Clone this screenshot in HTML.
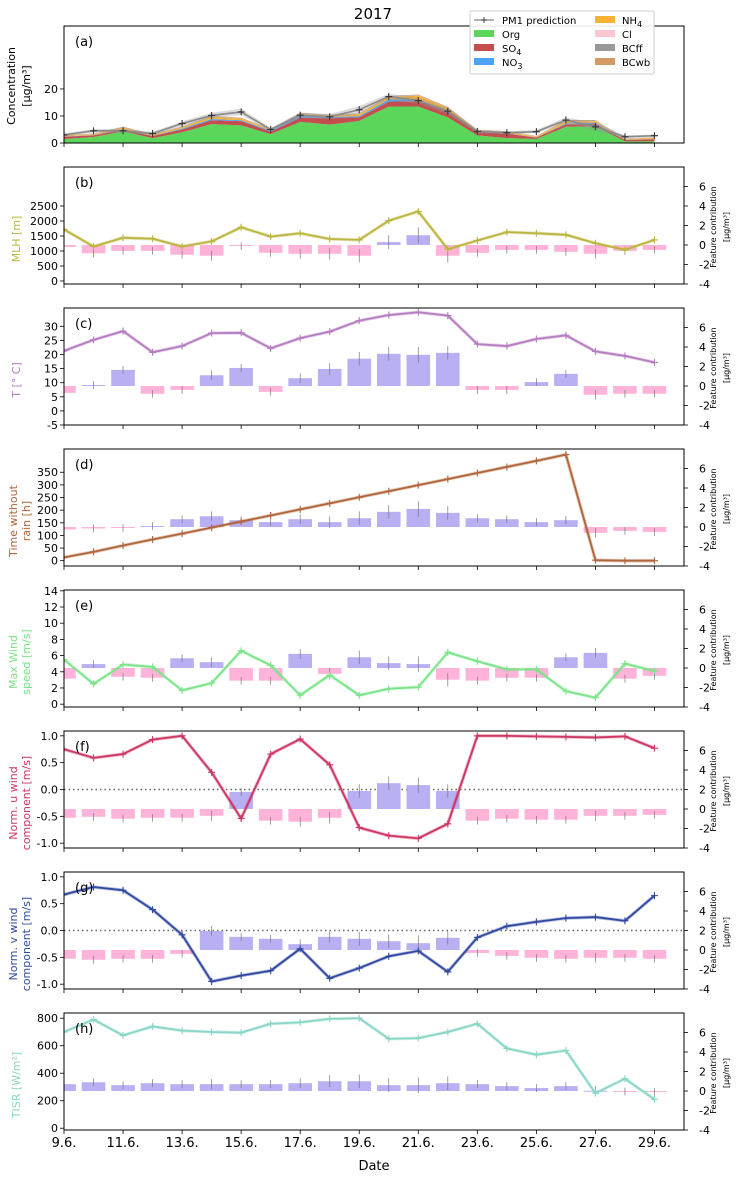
<!DOCTYPE html>
<html><head><meta charset="utf-8">
<style>
body{margin:0;background:#fff;}
svg{display:block;font-family:"DejaVu Sans","Liberation Sans",sans-serif;}
</style></head>
<body>
<svg id="fig" width="737" height="1177" viewBox="0 0 737 1177" xmlns="http://www.w3.org/2000/svg">
<text x="373" y="19" font-size="15" text-anchor="middle">2017</text>
</svg>
<script>
// ---------- DATA ----------
const dates = ["9.6.","10.6.","11.6.","12.6.","13.6.","14.6.","15.6.","16.6.","17.6.","18.6.","19.6.","20.6.","21.6.","22.6.","23.6.","24.6.","25.6.","26.6.","27.6.","28.6.","29.6."];
const xTickLabels = ["9.6.","11.6.","13.6.","15.6.","17.6.","19.6.","21.6.","23.6.","25.6.","27.6.","29.6."];
// panel a (stacked components)
const org  = [1.5,2.2,4.3,1.8,4.0,7.0,6.5,3.3,7.8,6.8,8.2,13.5,13.5,9.5,2.8,1.8,1.5,6.0,6.2,0.6,0.6];
const so4  = [0.8,0.6,0.6,0.8,1.0,1.4,1.6,0.9,1.6,2.5,1.3,1.8,2.0,1.9,1.2,1.7,0.5,0.9,0.9,0.5,0.8];
const no3  = [0.1,0.1,0.2,0.1,0.3,0.5,0.3,0.4,0.6,0.3,0.4,0.8,0.6,0.4,0.1,0.1,0.1,0.3,0.4,0.1,0.1];
const nh4  = [0.3,0.3,0.6,0.4,0.5,0.8,0.6,0.4,0.8,0.6,0.7,1.0,1.5,1.2,0.6,0.5,0.3,0.9,0.6,0.2,0.4];
const cl   = [0.05,0.05,0.05,0.05,0.05,0.05,0.05,0.05,0.05,0.05,0.05,0.05,0.05,0.05,0.05,0.05,0.05,0.05,0.05,0.05,0.05];
const bcff = [0.1,0.1,0.2,0.1,0.2,0.2,0.2,0.1,0.2,0.2,0.2,0.2,0.2,0.2,0.1,0.1,0.1,0.2,0.2,0.1,0.1];
const bcwb = [0.1,0.1,0.1,0.1,0.1,0.1,0.1,0.1,0.1,0.1,0.1,0.1,0.1,0.1,0.1,0.1,0.1,0.1,0.1,0.1,0.1];
const pm1pred = [3.0,4.5,4.5,3.5,7.2,10.2,11.5,5.0,10.3,9.7,12.3,17.2,15.7,11.8,4.3,3.8,4.2,8.5,6.0,2.3,2.7];
const pm1err  = [0.6,0.6,0.8,0.6,0.8,1.0,1.2,0.6,1.0,1.0,1.4,1.0,1.2,1.2,0.6,0.6,0.6,1.0,1.6,0.5,0.5];
// meteorological variables
const mlh   = [1720,1150,1440,1410,1150,1320,1790,1480,1590,1400,1370,2010,2320,1060,1350,1630,1590,1540,1260,1040,1370];
const temp  = [21.3,25.2,28.3,20.8,23.0,27.6,27.7,22.2,25.8,28.1,32.0,34.0,35.0,33.8,23.7,23.0,25.5,26.8,21.1,19.5,17.2];
const norain= [13,35,60,84,107,131,155,179,203,227,251,275,299,323,347,371,395,420,2,0,0];
const wmax  = [5.5,2.5,4.9,4.6,1.7,2.6,6.6,4.8,1.1,3.6,1.1,1.9,2.1,6.4,5.3,4.3,4.3,1.6,0.8,5.0,4.1];
const uwind = [0.75,0.59,0.66,0.93,1.0,0.32,-0.54,0.66,0.94,0.46,-0.71,-0.86,-0.91,-0.64,1.0,1.0,0.99,0.98,0.97,0.99,0.77];
const vwind = [0.67,0.81,0.75,0.39,-0.08,-0.95,-0.84,-0.75,-0.34,-0.89,-0.70,-0.48,-0.38,-0.77,-0.13,0.08,0.16,0.23,0.25,0.18,0.65];
const tisr  = [700,790,675,740,710,700,695,760,770,795,800,650,655,700,760,580,535,565,255,360,210];
// feature contributions (right axis)
const contribMLH  = [-0.2,-0.85,-0.6,-0.6,-1.0,-1.1,-0.1,-0.8,-0.9,-0.9,-1.1,0.3,1.0,-1.1,-0.8,-0.5,-0.5,-0.7,-0.9,-0.6,-0.5];
const contribT    = [-0.7,0.1,1.65,-0.8,-0.4,1.1,1.85,-0.6,0.8,1.75,2.8,3.3,3.2,3.4,-0.4,-0.4,0.4,1.25,-0.9,-0.8,-0.8];
const contribRain = [-0.25,-0.15,-0.1,0.1,0.8,1.1,0.7,0.5,0.8,0.5,0.9,1.55,1.85,1.45,0.9,0.8,0.5,0.7,-0.6,-0.4,-0.5];
const contribWmax = [-1.1,0.4,-0.9,-1.0,1.0,0.6,-1.3,-1.3,1.45,-0.6,1.1,0.5,0.4,-1.2,-1.3,-1.0,-1.0,1.1,1.55,-1.1,-0.8];
const contribU    = [-0.9,-0.8,-1.0,-0.9,-0.9,-0.7,1.75,-1.2,-1.3,-0.9,1.85,2.65,2.45,1.85,-1.2,-1.0,-1.1,-1.1,-0.7,-0.7,-0.6];
const contribV    = [-0.9,-1.0,-0.9,-0.9,-0.4,1.95,1.35,1.15,0.6,1.35,1.15,0.9,0.7,1.25,-0.3,-0.6,-0.8,-0.9,-0.8,-0.8,-0.9];
const contribTISR = [0.7,0.9,0.6,0.8,0.7,0.7,0.7,0.7,0.8,1.0,1.0,0.6,0.6,0.8,0.7,0.5,0.3,0.5,0.03,-0.05,-0.1];
const contribErr  = [0.4,0.4,0.4,0.4,0.4,0.5,0.4,0.4,0.5,0.6,0.7,0.7,0.8,0.7,0.4,0.4,0.4,0.4,0.5,0.4,0.4];
const rightTicks = [-4,-2,0,2,4,6];

// ---------- LAYOUT ----------
const svg = document.getElementById('fig');
const NS = "http://www.w3.org/2000/svg";
const X0 = 64, X1 = 684, PH = 117;
const xs = d => X0 + (d - 0) / 21 * (X1 - X0);
function el(tag, attrs, parent) {
  const e = document.createElementNS(NS, tag);
  for (const k in attrs) e.setAttribute(k, attrs[k]);
  (parent || svg).appendChild(e);
  return e;
}
function txt(x, y, s, size, anchor, color, parent) {
  const t = el('text', {x: x, y: y, 'font-size': size, 'text-anchor': anchor || 'start', fill: color || '#000'}, parent);
  t.textContent = s;
  return t;
}

const panels = [
  {key:'b', top:167, ymin:-100, ymax:3800, ticks:[0,500,1000,1500,2000,2500], data:mlh, contrib:contribMLH, color:'#bcb53e', label:['MLH [m]'], name:'mlh'},
  {key:'c', top:308, ymin:-5, ymax:36.5, ticks:[-5,0,5,10,15,20,25,30], data:temp, contrib:contribT, color:'#b57cc0', label:['T [$^\\circ$C]'.replace('$^\\circ$','° ')], name:'temperature'},
  {key:'d', top:449, ymin:-21, ymax:442, ticks:[0,50,100,150,200,250,300,350], data:norain, contrib:contribRain, color:'#b0653a', label:['Time without','rain [h]'], name:'time-without-rain'},
  {key:'e', top:590, ymin:-0.35, ymax:14.1, ticks:[0,2,4,6,8,10,12,14], data:wmax, contrib:contribWmax, color:'#7ae488', label:['Max Wind','speed [m/s]'], name:'max-wind'},
  {key:'f', top:731, ymin:-1.09, ymax:1.09, ticks:[-1.0,-0.5,0.0,0.5,1.0], data:uwind, contrib:contribU, color:'#cc3763', label:['Norm. u wind','component [m/s]'], name:'u-wind', zero:true},
  {key:'g', top:872, ymin:-1.09, ymax:1.09, ticks:[-1.0,-0.5,0.0,0.5,1.0], data:vwind, contrib:contribV, color:'#3049a0', label:['Norm. v wind','component [m/s]'], name:'v-wind', zero:true},
  {key:'h', top:1013, ymin:-13, ymax:838, ticks:[0,200,400,600,800], data:tisr, contrib:contribTISR, color:'#8ad6c6', label:['TISR [W/m²]'], name:'tisr'}
];

function axisFrame(top, name) {
  const g = el('g', { });
  const cp = el('clipPath', {id: 'clip-' + name}, g);
  el('rect', {x: X0, y: top, width: X1 - X0, height: PH}, cp);
  return g;
}
function xTicks(g, top, withLabels) {
  for (let d = 0; d <= 20; d += 2) {
    el('line', {x1: xs(d), x2: xs(d), y1: top + PH, y2: top + PH + 4, stroke: '#000', 'stroke-width': 0.8}, g);
  }
  if (withLabels) {
    xTickLabels.forEach((s, i) => {
      const t = txt(xs(i * 2), top + PH + 17, s, 13, 'middle', '#000', g);
      
      
    });
  }
}
function leftTicks(g, top, ymin, ymax, ticks, fmt) {
  const ys = v => top + PH - (v - ymin) / (ymax - ymin) * PH;
  ticks.forEach(v => {
    el('line', {x1: X0 - 4, x2: X0, y1: ys(v), y2: ys(v), stroke: '#000', 'stroke-width': 0.8}, g);
    const t = txt(X0 - 6, ys(v) + 4, fmt ? fmt(v) : String(v), 11, 'end', '#000', g);
    
    
  });
}
function marker(g, x, y, color, size) {
  el('path', {d: `M${x - size} ${y}H${x + size}M${x} ${y - size}V${y + size}`, stroke: color, 'stroke-width': 1.1}, g);
}

// ---------- PANEL A ----------
(function () {
  const top = 26, ymin = 0, ymax = 43.3;
  const ys = v => top + PH - (v - ymin) / (ymax - ymin) * PH;
  const g = axisFrame(top, 'concentration');
  const series = [
    {arr: org, c: '#5bd65b', n: 'area-org'},
    {arr: so4, c: '#c44e4e', n: 'area-so4'},
    {arr: no3, c: '#4aa3f5', n: 'area-no3'},
    {arr: nh4, c: '#f9b233', n: 'area-nh4'},
    {arr: cl, c: '#fbc8d2', n: 'area-cl'},
    {arr: bcff, c: '#999999', n: 'area-bcff'},
    {arr: bcwb, c: '#d49a64', n: 'area-bcwb'}
  ];
  const base = dates.map(() => 0);
  const cg = el('g', {'clip-path': 'url(#clip-concentration)'}, g);
  series.forEach(s => {
    const lo = base.slice();
    const hi = base.map((b, i) => b + s.arr[i]);
    let d = 'M' + hi.map((v, i) => xs(i) + ' ' + ys(v)).join('L');
    for (let i = lo.length - 1; i >= 0; i--) d += 'L' + xs(i) + ' ' + ys(lo[i]);
    const p = el('path', {d: d + 'Z', fill: s.c}, cg);
    
    
    hi.forEach((v, i) => base[i] = v);
  });
  // prediction band and line
  let bd = 'M' + pm1pred.map((v, i) => xs(i) + ' ' + ys(v + pm1err[i])).join('L');
  for (let i = pm1pred.length - 1; i >= 0; i--) bd += 'L' + xs(i) + ' ' + ys(pm1pred[i] - pm1err[i]);
  const band = el('path', {d: bd + 'Z', fill: '#999', 'fill-opacity': 0.35}, cg);
  
  
  const pl = el('polyline', {points: pm1pred.map((v, i) => xs(i) + ',' + ys(v)).join(' '), fill: 'none', stroke: '#8a8a8a', 'stroke-width': 1.6}, cg);
  
  
  pm1pred.forEach((v, i) => marker(cg, xs(i), ys(v), '#333', 3.5));
  el('rect', {x: X0, y: top, width: X1 - X0, height: PH, fill: 'none', stroke: '#000', 'stroke-width': 1}, g);
  leftTicks(g, top, ymin, ymax, [0, 10, 20]);
  xTicks(g, top, false);
  const pa = txt(75, top + 20, '(a)', 13, 'start', '#000', g);
  
  
  const yl = el('text', {transform: 'translate(15,' + (top + 60) + ') rotate(-90)', 'font-size': 11, 'text-anchor': 'middle'}, g);
  
  
  yl.innerHTML = '<tspan x="0" dy="0">Concentration</tspan><tspan x="0" dy="15">[μg/m³]</tspan>';
  // legend
  const lg = el('g', {}, g);
  
  
  el('rect', {x: 470, y: 11, width: 184, height: 63, fill: '#fff', 'fill-opacity': 0.9, stroke: '#ccc', rx: 2}, lg);
  el('line', {x1: 474, x2: 494, y1: 20, y2: 20, stroke: '#999', 'stroke-width': 1.6}, lg);
  marker(lg, 484, 20, '#555', 3);
  txt(502, 24, 'PM1 prediction', 10, 'start', '#000', lg);
  const left = [['Org', '#5bd65b'], ['SO', '#c44e4e', '4'], ['NO', '#4aa3f5', '3']];
  left.forEach((e, i) => {
    el('rect', {x: 474, y: 30 + i * 14, width: 20, height: 7, fill: e[1]}, lg);
    const t = txt(502, 38 + i * 14, e[0], 10, 'start', '#000', lg);
    if (e[2]) { const s = el('tspan', {dy: 3, 'font-size': 8}, t); s.textContent = e[2]; }
  });
  const right = [['NH', '#f9b233', '4'], ['Cl', '#fbc8d2'], ['BCff', '#999999'], ['BCwb', '#d49a64']];
  right.forEach((e, i) => {
    el('rect', {x: 595, y: 16 + i * 14, width: 20, height: 7, fill: e[1]}, lg);
    const t = txt(622, 24 + i * 14, e[0], 10, 'start', '#000', lg);
    if (e[2]) { const s = el('tspan', {dy: 3, 'font-size': 8}, t); s.textContent = e[2]; }
  });
})();

// ---------- PANELS B-H ----------
const RMIN = -4, RMAX = 8;
panels.forEach((P, idx) => {
  const top = P.top;
  const ys = v => top + PH - (v - P.ymin) / (P.ymax - P.ymin) * PH;
  const yr = v => top + PH - (v - RMIN) / (RMAX - RMIN) * PH;
  const g = axisFrame(top, P.name);
  const cg = el('g', {'clip-path': 'url(#clip-' + P.name + ')'}, g);
  if (P.zero) {
    el('line', {x1: X0, x2: X1, y1: ys(0), y2: ys(0), stroke: '#666', 'stroke-width': 1.5, 'stroke-dasharray': '1.5,3'}, cg);
  }
  // bars
  P.contrib.forEach((v, i) => {
    const x = xs(i - 0.4), w = xs(0.8) - xs(0);
    const y = Math.min(yr(v), yr(0)), h = Math.abs(yr(v) - yr(0));
    const r = el('rect', {x: x, y: y, width: w, height: Math.max(h, 1), fill: v >= 0 ? '#b8b0f2' : '#ffb3d9'}, cg);
    
    
    el('line', {x1: xs(i), x2: xs(i), y1: yr(v - contribErr[i]), y2: yr(v + contribErr[i]), stroke: '#777', 'stroke-width': 0.7}, cg);
  });
  // line
  el('polyline', {points: P.data.map((v, i) => xs(i) + ',' + ys(v)).join(' '), fill: 'none', stroke: P.color, 'stroke-width': 3.5, 'stroke-opacity': 0.35}, cg);
  const ln = el('polyline', {points: P.data.map((v, i) => xs(i) + ',' + ys(v)).join(' '), fill: 'none', stroke: P.color, 'stroke-width': 1.8}, cg);
  
  
  P.data.forEach((v, i) => marker(cg, xs(i), ys(v), P.color, 3.5));
  el('rect', {x: X0, y: top, width: X1 - X0, height: PH, fill: 'none', stroke: '#000', 'stroke-width': 1}, g);
  leftTicks(g, top, P.ymin, P.ymax, P.ticks, P.zero ? (v => v.toFixed(1)) : null);
  // right ticks
  rightTicks.forEach(v => {
    el('line', {x1: X1, x2: X1 + 4, y1: yr(v), y2: yr(v), stroke: '#000', 'stroke-width': 0.8}, g);
    const t = txt(X1 + 15, yr(v) + 4, String(v), 11, 'start', '#000', g);
    
    
  });
  const rl = el('text', {transform: 'translate(716,' + (top + 60) + ') rotate(-90)', 'font-size': 8, 'text-anchor': 'middle'}, g);
  
  
  rl.innerHTML = '<tspan x="0" dy="0">Feature contribution</tspan><tspan x="0" dy="13">[μg/m³]</tspan>';
  xTicks(g, top, idx === panels.length - 1);
  const pl = txt(75, top + 20, '(' + P.key + ')', 13, 'start', '#000', g);
  
  
  const yl = el('text', {transform: 'translate(' + (P.label.length > 1 ? 17 : 20) + ',' + (top + 72) + ') rotate(-90)', 'font-size': 11, 'text-anchor': 'middle', fill: P.color}, g);
  
  
  yl.innerHTML = P.label.map((s, j) => '<tspan x="0" dy="' + (j ? 13 : 0) + '">' + s + '</tspan>').join('');
});
const xt = txt(374, 1170, 'Date', 13, 'middle', '#000');


</script>
</body></html>
